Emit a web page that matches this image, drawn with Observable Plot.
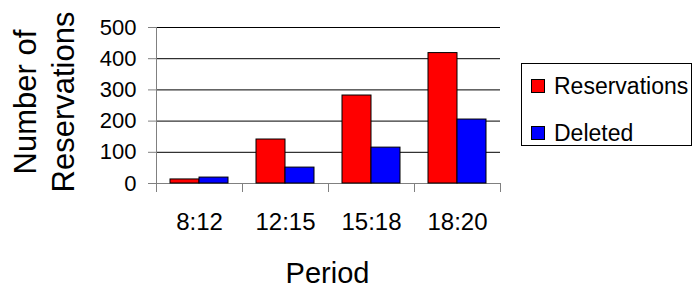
<!DOCTYPE html>
<html><head><meta charset="utf-8">
<script src="https://cdn.jsdelivr.net/npm/d3@7"></script>
<script src="https://cdn.jsdelivr.net/npm/@observablehq/plot@0.6"></script>
<style>
body{margin:0;background:#fff;font-family:"Liberation Sans",Arial,sans-serif}
#wrap{position:relative;width:696px;height:288px;overflow:hidden}
#ylabel{position:absolute;left:-65px;top:64px;width:220px;height:76px;line-height:38px;font-size:31px;text-align:center;transform:rotate(-90deg);white-space:nowrap;color:#000}
#xlabel{position:absolute;left:0;width:655px;top:259px;font-size:29px;line-height:29px;text-align:center;color:#000}
#legend{position:absolute;left:521px;top:63px;width:171px;height:83px;border:1px solid #000;box-sizing:border-box;font-size:23px;color:#000}
.item{position:absolute;left:9px;display:flex;align-items:center;height:24px}
.sw{width:14px;height:14px;box-sizing:border-box;border:1px solid #000;margin-right:9px}
</style></head><body><div id="wrap"></div>
<script>
const periods = ["8:12", "12:15", "15:18", "18:20"];
const series = ["Reservations", "Deleted"];
const reservations = [13, 141, 282, 418];
const deleted = [19, 51, 115, 205];
const yTicks = [0, 100, 200, 300, 400, 500];
const colors = ["#ff0000", "#0000ff"];
const yTitle = ["Number of", "Reservations"];
const xTitle = "Period";

const data = periods.flatMap((p, i) => [
  {period: p, series: series[0], value: reservations[i]},
  {period: p, series: series[1], value: deleted[i]}
]);
const gray = "#808080";

const chart = Plot.plot({
  width: 696,
  height: 288,
  marginLeft: 155,
  marginRight: 196,
  marginTop: 27,
  marginBottom: 105,
  style: {fontFamily: "'Liberation Sans', Arial, sans-serif", background: "#fff", color: "#000"},
  fx: {domain: periods, paddingInner: 0, paddingOuter: 0, axis: null},
  x: {domain: series, paddingInner: 0, paddingOuter: 0.47, axis: null},
  y: {domain: [0, 500], axis: null},
  color: {domain: series, range: colors},
  marks: [
    Plot.ruleY(yTicks.filter(d => d > 0), {stroke: "#000", strokeWidth: 1}),
    Plot.ruleY([0], {stroke: gray}),
    Plot.frame({anchor: "left", facetAnchor: "left", stroke: gray, insetBottom: -8}),
    Plot.frame({anchor: "left", stroke: gray, insetTop: 156, insetBottom: -8}),
    Plot.frame({anchor: "right", stroke: gray, insetTop: 156, insetBottom: -8}),
    Plot.axisY({ticks: yTicks, tickSize: 8, tickFormat: () => "", stroke: gray, label: null}),
    Plot.axisY({ticks: yTicks, tickSize: 0, tickPadding: 20, fontSize: 22, fill: "#000", label: null}),
    Plot.axisFx({anchor: "bottom", tickSize: 0, tickPadding: 29, fontSize: 24, fill: "#000", label: null}),
    Plot.barY(data, {fx: "period", x: "series", y: "value", fill: "series", stroke: "#000", strokeWidth: 1})
  ]
});
const wrap = document.getElementById("wrap");
wrap.appendChild(chart);

const yl = document.createElement("div");
yl.id = "ylabel";
yl.innerHTML = yTitle.map(t => `<div>${t}</div>`).join("");
wrap.appendChild(yl);

const xl = document.createElement("div");
xl.id = "xlabel";
xl.textContent = xTitle;
wrap.appendChild(xl);

const lg = document.createElement("div");
lg.id = "legend";
series.forEach((s, i) => {
  const it = document.createElement("div");
  it.className = "item";
  it.style.top = (i === 0 ? 10 : 57) + "px";
  it.innerHTML = `<span class="sw" style="background:${colors[i]}"></span><span>${s}</span>`;
  lg.appendChild(it);
});
wrap.appendChild(lg);
</script>
</body></html>
